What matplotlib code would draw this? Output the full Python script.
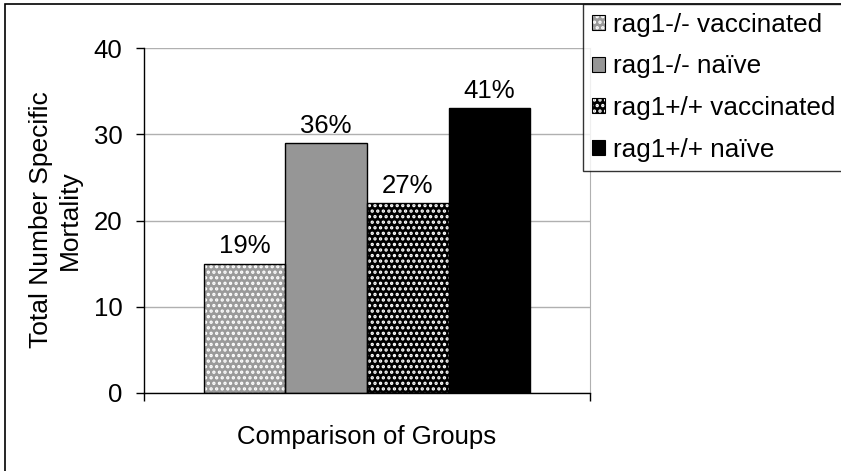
import matplotlib
matplotlib.use("Agg")
import matplotlib.pyplot as plt
from matplotlib.patches import Rectangle, Patch
from matplotlib.legend_handler import HandlerTuple

plt.rcParams['font.family'] = ['Liberation Sans', 'DejaVu Sans']
plt.rcParams['hatch.linewidth'] = 1.6

groups = ["rag1-/- vaccinated", "rag1-/- naïve", "rag1+/+ vaccinated", "rag1+/+ naïve"]
deaths = [15, 29, 22, 33]
pct_labels = ["19%", "36%", "27%", "41%"]
face_colors = ["#9a9a9a", "#969696", "#000000", "#000000"]
hatches = ["...", "", "...", ""]

W, H, DPI = 841, 471, 100
FS = 18.5
fig = plt.figure(figsize=(W / DPI, H / DPI), dpi=DPI)

def fx(px):
    return px / W

def fy(py):
    return 1 - py / H

# outer chart border (runs off the bottom/right edges)
fig.add_artist(Rectangle((fx(5), fy(H + 10)), fx(W + 20), (H + 6) / H,
                         transform=fig.transFigure, fill=False,
                         edgecolor="black", linewidth=1.2, zorder=0))

ax = fig.add_axes([fx(144), fy(393), fx(590 - 144), (393 - 48) / H])
ax.set_xlim(-2.736, 2.736)
ax.set_ylim(0, 40)

xs = [i - (len(deaths) - 1) / 2 for i in range(len(deaths))]
for x, v, fc, h, lab in zip(xs, deaths, face_colors, hatches, pct_labels):
    ax.bar(x, v, width=1.0, color=fc, hatch=h, edgecolor="white",
           linewidth=0, zorder=2)
    ax.bar(x, v, width=1.0, fill=False, edgecolor="black", linewidth=1.0,
           zorder=3)
    ax.text(x, v + 0.6, lab, ha="center", va="bottom", fontsize=FS)

ax.set_yticks([0, 10, 20, 30, 40])
ax.yaxis.grid(True, color="#b0b0b0", linewidth=1.0)
ax.set_axisbelow(True)
ax.set_xticks([-2.736, 2.736])
ax.set_xticklabels(["", ""])
ax.tick_params(axis="y", direction="out", length=5.5, width=1, labelsize=FS, pad=10)
ax.tick_params(axis="x", direction="out", length=6, width=1)
ax.spines["top"].set_visible(False)
ax.spines["right"].set_color("#b0b0b0")
ax.spines["left"].set_linewidth(1.0)
ax.spines["bottom"].set_linewidth(1.0)

fig.text(fx(55), fy(220), "Total Number Specific\nMortality", rotation=90,
         ha="center", va="center", fontsize=FS + 0.5, linespacing=1.25)
fig.text(fx(367), fy(437), "Comparison of Groups", ha="center", va="center",
         fontsize=FS)

handles = []
for fc, h in zip(face_colors, hatches):
    fill = Patch(facecolor=fc, hatch=h, edgecolor="white", linewidth=0)
    outline = Patch(facecolor="none", edgecolor="black", linewidth=0.8)
    handles.append((fill, outline))

leg = fig.legend(handles, groups, loc="upper left",
                 handler_map={tuple: HandlerTuple(ndivide=1)},
                 bbox_to_anchor=(fx(583), fy(4)), bbox_transform=fig.transFigure,
                 fontsize=FS + 0.3, frameon=True, fancybox=False, borderaxespad=0,
                 handlelength=0.5, handleheight=0.5, handletextpad=0.3,
                 labelspacing=0.68, borderpad=0.33)
leg.get_frame().set_edgecolor("black")
leg.get_frame().set_linewidth(1.0)

fig.savefig("out.png", dpi=DPI)
